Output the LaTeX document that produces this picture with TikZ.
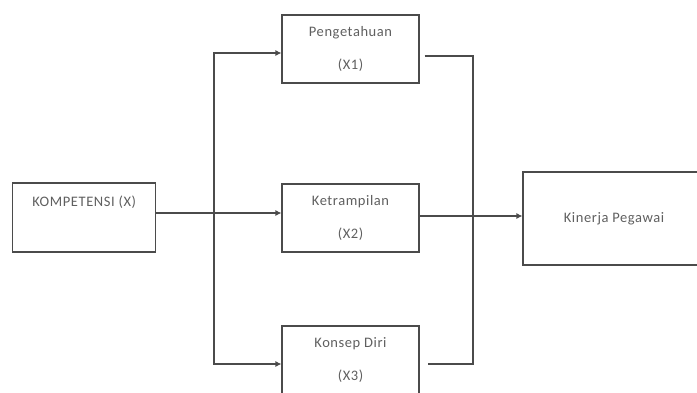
\documentclass[tikz,border=0pt]{standalone}
\usepackage{fontspec}
\setmainfont{Carlito}[LetterSpace=4]
\usetikzlibrary{arrows.meta, positioning, calc}
\definecolor{lineGray}{RGB}{75,75,75}
\definecolor{textGray}{RGB}{95,95,95}
\tikzset{
    varbox/.style={
        rectangle,
        draw=lineGray,
        line width=1.1pt,
        align=center,
        inner sep=0pt,
        minimum width=137pt,
        minimum height=68pt,
        text=textGray,
        font=\fontsize{14.5}{33}\selectfont
    },
    flowarrow/.style={-{Latex[length=6pt,width=6pt]}, line width=1.1pt, draw=lineGray},
    plainline/.style={line width=1.1pt, draw=lineGray}
}

\begin{document}
\begin{tikzpicture}[x=1pt,y=-1pt]
    \useasboundingbox (0,0) rectangle (697,392);
    \begin{scope}
        \clip (0,0) rectangle (697,392);
        % boxes
        \node[varbox, minimum width=143pt, minimum height=69pt] (komp) at (84.2,217.5) {KOMPETENSI (X)\\\mbox{}};
        \node[varbox] (peng) at (350.5,49) {Pengetahuan\\(X1)};
        \node[varbox] (ketr) at (350.5,218) {Ketrampilan\\(X2)};
        \node[varbox] (kons) at (350.5,360) {Konsep Diri\\(X3)};
        \node[varbox, minimum width=182pt, minimum height=93pt] (kin) at (614,218.5) {Kinerja Pegawai};

        % connectors
        \coordinate (split) at (214,213);
        \coordinate (merge) at (473,216);
        \draw[flowarrow] ([yshift=4.5pt]komp.east) -- ([yshift=5pt]ketr.west);
        \draw[flowarrow] (split) |- ([yshift=-4pt]peng.west);
        \draw[flowarrow] (split) |- ([yshift=-4pt]kons.west);
        \draw[plainline] ([xshift=5pt,yshift=-7pt]peng.east) -| (merge) |- ([xshift=8pt,yshift=-4pt]kons.east);
        \draw[flowarrow] ([yshift=2pt]ketr.east) coordinate (kout) -- (kout -| kin.west);
    \end{scope}
\end{tikzpicture}
\end{document}
